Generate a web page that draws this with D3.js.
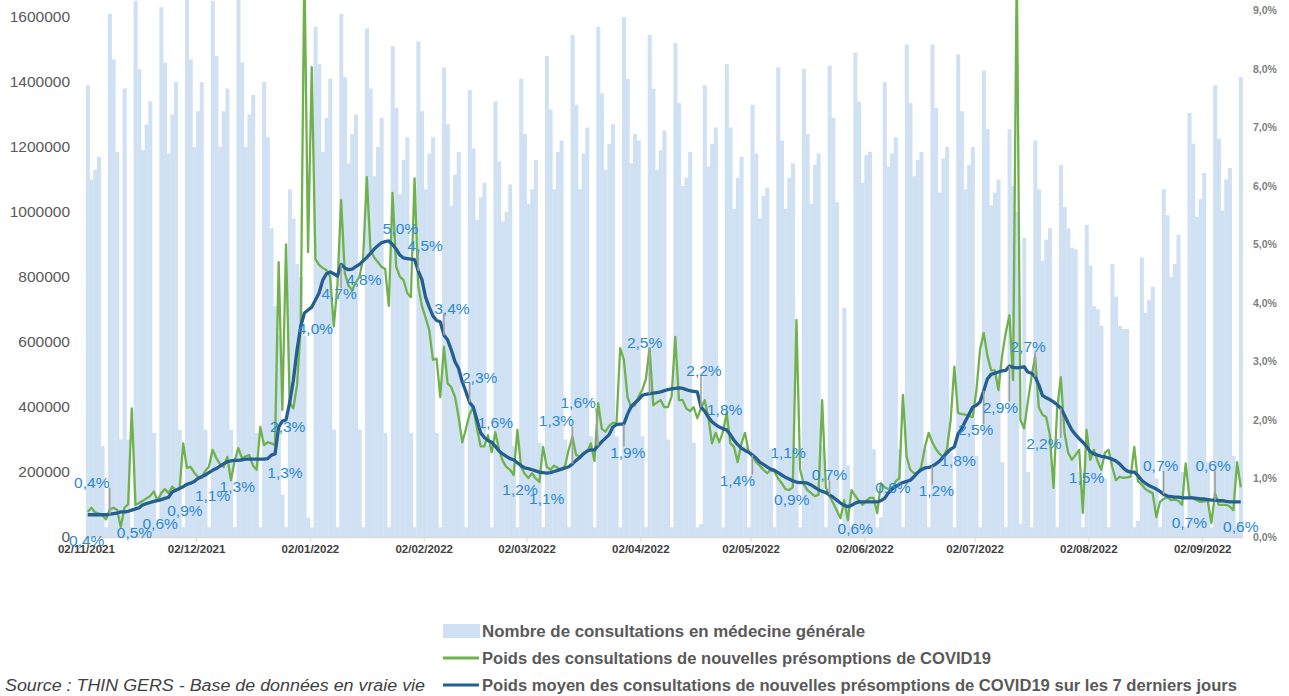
<!DOCTYPE html>
<html>
<head>
<meta charset="utf-8">
<script src="https://cdn.jsdelivr.net/npm/d3@7"></script>
<style>
  body { margin: 0; background: #fff; }
  svg { display: block; font-family: "Liberation Sans", Arial, sans-serif; }
</style>
</head>
<body>
<svg width="1289" height="696"></svg>
<script>
// first day of the series (Tuesday 02/11/2021), one value per day
const startDay = Date.UTC(2021, 10, 2);

// Nombre de consultations en médecine générale (thousands), Mon..Sun per week
const consultations = [
  1390, 1100, 1130, 1170, 280, 30,
  1610, 1470, 1185, 300, 1380, 300, 30,
  1650, 1440, 1190, 1270, 1340, 320, 30,
  1630, 1460, 1180, 1300, 1400, 330, 30,
  1680, 1470, 1200, 1310, 1400, 330, 30,
  1650, 1480, 1200, 1310, 1380, 330, 30,
  1680, 1460, 1200, 1300, 1360, 320, 30,
  1400, 1230, 950, 710, 620, 130, 30,
  1070, 980, 840, 800, 620, 60, 30,
  1570, 1455, 1185, 1290, 1410, 330, 30,
  1610, 1415, 1150, 1240, 1300, 330, 30,
  1565, 1380, 1110, 1200, 1290, 320, 30,
  1510, 1320, 1055, 1160, 1230, 320, 30,
  1525, 1310, 1070, 1180, 1230, 320, 30,
  1445, 1270, 1020, 1115, 1185, 300, 30,
  1375, 1195, 975, 1045, 1090, 280, 30,
  1340, 1155, 970, 1000, 1085, 280, 30,
  1410, 1240, 1025, 1070, 1160, 290, 30,
  1480, 1315, 1070, 1185, 1220, 300, 30,
  1545, 1330, 1070, 1180, 1260, 310, 30,
  1570, 1365, 1130, 1210, 1270, 310, 30,
  1600, 1410, 1150, 1240, 1220, 310, 30,
  1545, 1380, 1130, 1190, 1250, 300, 30,
  1520, 1335, 1080, 1105, 1185, 290, 30,
  40, 1390, 1140, 1210, 1260, 290, 30,
  1455, 1260, 1010, 1105, 1170, 280, 30,
  1330, 1180, 980, 1050, 1075, 270, 30,
  1445, 1220, 1010, 1105, 1150, 270, 30,
  1440, 1240, 1025, 1145, 1180, 280, 30,
  1450, 1290, 1030, 40, 705, 220, 30,
  1490, 1340, 1090, 1175, 1185, 270, 30,
  60, 1400, 1140, 1180, 1230, 270, 30,
  1515, 1335, 1110, 1160, 1185, 270, 30,
  1515, 1320, 1060, 1165, 1200, 260, 30,
  1485, 1310, 1070, 1145, 1200, 250, 30,
  1435, 1255, 1020, 1060, 1100, 230, 30,
  1255, 1080, 1000, 40, 920, 200, 30,
  1220, 1070, 850, 915, 950, 200, 30,
  1145, 1015, 950, 890, 885, 200, 30,
  960, 835, 710, 700, 650, 180, 30,
  840, 740, 650, 640, 640, 180, 30,
  50, 860, 690, 730, 770, 180, 30,
  1070, 990, 800, 840, 930, 200, 30,
  1305, 1210, 985, 1040, 1120, 230, 30,
  1390, 1225, 1005, 1100, 1135, 250, 30,
  1415
];

// Poids des consultations de nouvelles présomptions de COVID19 (%)
const dailyShare = [
  0.43, 0.50, 0.42, 0.40, 0.37, 0.30, 0.47, 0.50, 0.46, 0.17,
  0.50, 0.56, 2.20, 0.55, 0.58, 0.62, 0.66, 0.70, 0.78, 0.62,
  0.75, 0.82, 0.75, 0.86, 0.80, 0.82, 1.60, 1.18, 1.20, 1.10,
  1.03, 1.01, 1.13, 1.20, 1.49, 1.35, 1.25, 1.20, 1.37, 0.97,
  1.30, 1.52, 1.35, 1.38, 1.40, 1.22, 1.15, 1.88, 1.57, 1.62,
  1.60, 1.57, 4.70, 2.17, 5.00, 2.30, 2.20, 2.60, 3.60, 9.80,
  4.87, 8.03, 4.75, 4.65, 4.60, 4.56, 4.45, 3.60, 4.30, 5.76,
  4.51, 4.30, 4.22, 4.35, 4.45, 4.77, 6.15, 4.90, 4.78, 4.70,
  4.62, 4.58, 3.95, 5.88, 4.62, 4.45, 4.39, 4.17, 4.10, 6.13,
  4.30, 3.95, 3.75, 3.54, 3.03, 3.05, 2.39, 3.25, 2.63, 2.56,
  2.40, 2.05, 1.62, 1.85, 2.10, 2.22, 1.85, 1.55, 1.55, 1.74,
  1.45, 1.79, 1.50, 1.30, 1.20, 1.15, 1.06, 1.83, 1.20, 1.08,
  1.01, 1.09, 1.00, 0.94, 1.54, 1.20, 1.15, 1.22, 1.18, 1.15,
  1.22, 1.50, 1.71, 1.40, 1.38, 1.44, 1.45, 1.60, 1.30, 2.29,
  1.85, 1.80, 1.90, 1.95, 1.95, 3.23, 3.03, 2.39, 2.22, 2.25,
  2.40, 2.51, 2.70, 3.23, 2.25, 2.30, 2.34, 2.22, 2.22, 2.40,
  3.42, 2.34, 2.34, 2.20, 2.15, 2.22, 2.03, 2.20, 2.34, 2.05,
  1.60, 1.78, 1.62, 1.80, 2.12, 1.60, 1.54, 1.28, 1.60, 1.78,
  1.45, 1.37, 1.28, 1.22, 1.15, 1.09, 1.15, 1.12, 1.00, 0.92,
  0.82, 0.80, 0.85, 3.71, 1.15, 0.90, 0.80, 0.75, 0.70, 0.72,
  2.34, 0.85, 0.70, 0.58, 0.45, 0.32, 0.63, 0.29, 0.80, 0.70,
  0.62, 0.55, 0.62, 0.67, 0.67, 0.41, 0.92, 0.85, 0.82, 0.80,
  0.95, 1.00, 2.43, 1.37, 1.15, 1.09, 1.09, 1.20, 1.54, 1.78,
  1.62, 1.50, 1.42, 1.37, 1.50, 2.00, 2.91, 2.12, 2.10, 2.09,
  2.07, 2.05, 2.50, 3.20, 3.49, 3.10, 2.85, 2.85, 2.51, 3.10,
  3.49, 3.79, 2.68, 9.80, 2.00, 1.86, 2.30, 2.73, 3.08, 2.22,
  2.09, 2.05, 1.75, 0.84, 2.20, 2.73, 1.78, 1.44, 1.32, 1.40,
  1.49, 0.41, 1.83, 1.32, 1.49, 1.30, 1.15, 1.44, 1.49, 1.20,
  0.97, 1.03, 1.01, 1.02, 1.03, 1.54, 0.95, 0.90, 0.82, 0.78,
  0.75, 0.34, 0.60, 0.65, 0.68, 0.63, 0.64, 0.62, 0.55, 1.26,
  0.70, 0.66, 0.63, 0.60, 0.61, 0.62, 0.24, 0.75, 0.55, 0.55,
  0.55, 0.52, 0.46, 1.28, 0.85
];

// Poids moyen ... sur les 7 derniers jours (%)
const weeklyShare = [
  0.38, 0.38, 0.38, 0.38, 0.38, 0.38,
  0.39, 0.40, 0.41, 0.43, 0.43, 0.44, 0.46, 0.48, 0.50, 0.55,
  0.57, 0.59, 0.61, 0.62, 0.64, 0.66, 0.68, 0.77, 0.80, 0.83,
  0.86, 0.90, 0.92, 0.95, 1.00, 1.03, 1.06, 1.10, 1.14, 1.17,
  1.21, 1.25, 1.29, 1.30, 1.31, 1.31, 1.32, 1.33, 1.33, 1.33,
  1.33, 1.33, 1.33, 1.34, 1.40, 1.42, 1.88, 1.98, 2.00, 2.30,
  2.68, 3.20, 3.60, 3.83, 3.88, 3.93, 4.05, 4.17, 4.39, 4.50,
  4.53, 4.50, 4.46, 4.66, 4.60, 4.57, 4.58, 4.62, 4.66, 4.72,
  4.78, 4.85, 4.92, 4.98, 5.03, 5.05, 5.06, 5.00, 4.92, 4.82,
  4.77, 4.76, 4.75, 4.74, 4.55, 4.40, 4.10, 3.93, 3.78, 3.70,
  3.68, 3.45, 3.37, 3.20, 3.00, 2.88, 2.65, 2.48, 2.30, 2.22,
  2.00, 1.78, 1.70, 1.65, 1.62, 1.55, 1.47, 1.42, 1.38, 1.34,
  1.32, 1.27, 1.22, 1.18, 1.17, 1.15, 1.13, 1.11, 1.10, 1.09,
  1.10, 1.12, 1.14, 1.16, 1.18, 1.20, 1.25, 1.31, 1.36, 1.42,
  1.47, 1.49, 1.49, 1.56, 1.63, 1.69, 1.75, 1.88, 1.92, 1.93,
  1.93, 2.10, 2.23, 2.29, 2.35, 2.42, 2.44, 2.45, 2.46, 2.47,
  2.48, 2.50, 2.52, 2.53, 2.54, 2.55, 2.54, 2.52, 2.50, 2.49,
  2.48, 2.22, 2.15, 2.05, 1.97, 1.92, 1.88, 1.85, 1.83, 1.75,
  1.65, 1.58, 1.52, 1.48, 1.45, 1.40, 1.35, 1.28, 1.24, 1.20,
  1.16, 1.14, 1.10, 1.06, 1.02, 0.99, 0.96, 0.94, 0.93, 0.93,
  0.92, 0.89, 0.85, 0.81, 0.78, 0.76, 0.72, 0.68, 0.63, 0.58,
  0.54, 0.52, 0.54, 0.58, 0.60, 0.60, 0.60, 0.60, 0.60, 0.60,
  0.62, 0.66, 0.75, 0.82, 0.86, 0.90, 0.93, 0.95, 0.97, 1.03,
  1.10, 1.15, 1.18, 1.19, 1.21, 1.25, 1.30, 1.37, 1.44, 1.50,
  1.54, 1.76, 1.85, 1.98, 2.10, 2.22, 2.25, 2.31, 2.50, 2.70,
  2.78, 2.80, 2.82, 2.84, 2.85, 2.92, 2.90, 2.89, 2.90, 2.91,
  2.82, 2.80, 2.74, 2.60, 2.42, 2.38, 2.35, 2.31, 2.26, 2.20,
  2.08, 1.95, 1.83, 1.75, 1.68, 1.62, 1.55, 1.46, 1.42, 1.40,
  1.38, 1.37, 1.35, 1.33, 1.30, 1.25, 1.18, 1.13, 1.11, 1.11,
  1.05, 0.97, 0.92, 0.88, 0.85, 0.82, 0.78, 0.73, 0.70, 0.69,
  0.68, 0.68, 0.67, 0.67, 0.67, 0.67, 0.66, 0.65, 0.65, 0.64,
  0.63, 0.63, 0.62, 0.62, 0.61, 0.60, 0.60, 0.60, 0.60
];

// data labels on the 7-day line
const labelDays = [0, 6, 13, 20, 27, 34, 41, 48, 55, 62, 69, 76, 83, 90, 97, 104,
  111, 118, 125, 132, 139, 146, 153, 167, 174, 181, 188, 195, 202, 209, 216,
  230, 237, 244, 251, 258, 265, 272, 293, 300, 307, 314];
const labelTexts = ['0,4%', '0,4%', '0,5%', '0,6%', '0,9%', '1,1%', '1,3%', '1,3%',
  '2,3%', '4,0%', '4,7%', '4,8%', '5,0%', '4,5%', '3,4%', '2,3%', '1,6%', '1,2%',
  '1,1%', '1,3%', '1,6%', '1,9%', '2,5%', '2,2%', '1,8%', '1,4%', '1,1%', '0,9%',
  '0,7%', '0,6%', '0,6%', '1,2%', '1,8%', '2,5%', '2,9%', '2,7%', '2,2%', '1,5%',
  '0,7%', '0,7%', '0,6%', '0,6%'];

const leftTicks = [0, 200000, 400000, 600000, 800000, 1000000, 1200000, 1400000, 1600000];
const rightTicks = [0, 1, 2, 3, 4, 5, 6, 7, 8, 9];
const xTickDates = ['02/11/2021', '02/12/2021', '02/01/2022', '02/02/2022', '02/03/2022',
  '02/04/2022', '02/05/2022', '02/06/2022', '02/07/2022', '02/08/2022', '02/09/2022'];

const legendNames = [
  'Nombre de consultations en médecine générale',
  'Poids des consultations de nouvelles présomptions de COVID19',
  'Poids moyen des consultations de nouvelles présomptions de COVID19 sur les 7 derniers jours'
];
const sourceText = 'Source : THIN GERS - Base de données en vraie vie';

// ---- layout (label offsets from their point: dx, dy, leader line?) ----
const labelLayout = [
  [-1, 26, 0], [-18, -32, 1], [-1, 24, 0], [-1, 24, 0], [-2, 26, 0], [0, 25, 0],
  [-1, 26, 0], [21, 13, 0], [-2, 24, 0], [0, 28, 0], [-2, 29, 1], [-3, 22, 0],
  [8, -16, 0], [7, -25, 1], [8, -27, 1], [10, -25, 1], [0, -24, 0], [-1, 24, 0],
  [0, 25, 0], [-16, -43, 1], [-20, -43, 1], [4, 28, 1], [-5, -51, 1], [3, -37, 1],
  [-2, -20, 0], [-15, 25, 1], [10, -20, 0], [-12, 17, 0], [0, -20, 1], [0, 25, 0],
  [12, -13, 0], [4, 24, 1], [0, 26, 0], [-8, 39, 1], [-9, 41, 1], [-7, -30, 1],
  [-17, 35, 1], [0, 31, 0], [-3, -29, 1], [0, 25, 0], [-2, -35, 1], [0, 25, 0]
];

const svg = d3.select('svg');
const width = +svg.attr('width');
const height = +svg.attr('height');

const plot = { left: 85.9, right: 1242.6, top: -48, bottom: 537 };

const endDay = d3.utcDay.offset(new Date(startDay), consultations.length);
const days = d3.utcDay.range(new Date(startDay), endDay);
const mid = d => d3.utcHour.offset(d, 12);

const xScale = d3.scaleUtc().domain([new Date(startDay), endDay]).range([plot.left, plot.right]);
const yLeft = d3.scaleLinear().domain([0, 1800000]).range([plot.bottom, plot.top]);
const yRight = d3.scaleLinear().domain([0, 10]).range([plot.bottom, plot.top]);

const parseTick = d3.utcParse('%d/%m/%Y');
const pct = d => d.toFixed(1).replace('.', ',') + '%';

// bars
svg.append('g')
  .selectAll('rect').data(days)
  .enter().append('rect')
  .attr('x', d => xScale(d))
  .attr('width', d => xScale(d3.utcDay.offset(d, 1)) - xScale(d) + 0.35)
  .attr('y', (d, i) => yLeft(consultations[i] * 1000))
  .attr('height', (d, i) => yLeft(0) - yLeft(consultations[i] * 1000))
  .attr('fill', '#cfe1f2');

// axis line + date ticks
const xAxis = svg.append('g')
  .attr('transform', `translate(0,${plot.bottom})`)
  .call(d3.axisBottom(xScale)
    .tickValues(xTickDates.map(parseTick))
    .tickFormat(d3.utcFormat('%d/%m/%Y'))
    .tickSize(5).tickSizeOuter(0).tickPadding(3));
xAxis.select('.domain').attr('stroke', '#d9d9d9').attr('stroke-width', 1.3);
xAxis.selectAll('.tick line').attr('stroke', '#d9d9d9');
xAxis.selectAll('.tick text')
  .attr('fill', '#404040').attr('font-size', 11.5).attr('font-weight', 'bold')
  .attr('font-family', '"Liberation Sans", Arial, sans-serif');

// left axis
const leftAxis = svg.append('g')
  .attr('transform', 'translate(73,0)')
  .call(d3.axisLeft(yLeft).tickValues(leftTicks).tickFormat(d3.format('d')).tickSize(0).tickPadding(3));
leftAxis.select('.domain').remove();
leftAxis.selectAll('text')
  .attr('fill', '#595959').attr('font-size', 15.5)
  .attr('font-family', '"Liberation Sans", Arial, sans-serif');

// right axis
const rightAxis = svg.append('g')
  .attr('transform', 'translate(1250,0)')
  .call(d3.axisRight(yRight).tickValues(rightTicks).tickFormat(pct).tickSize(0).tickPadding(3));
rightAxis.select('.domain').remove();
rightAxis.selectAll('text')
  .attr('fill', '#7f7f7f').attr('font-size', 10.5).attr('font-weight', 'bold')
  .attr('font-family', '"Liberation Sans", Arial, sans-serif');

// lines
const dailyLine = d3.line()
  .x((d, i) => xScale(mid(days[i])))
  .y(d => yRight(d));

svg.append('path')
  .datum(dailyShare)
  .attr('d', dailyLine)
  .attr('fill', 'none')
  .attr('stroke', '#6fb24d')
  .attr('stroke-width', 2.3)
  .attr('stroke-linejoin', 'round');

svg.append('path')
  .datum(weeklyShare)
  .attr('d', dailyLine)
  .attr('fill', 'none')
  .attr('stroke', '#255e91')
  .attr('stroke-width', 3.3)
  .attr('stroke-linejoin', 'round');

// data labels with leader lines
const leaders = svg.append('g');
const labels = svg.append('g');
labelDays.forEach((day, k) => {
  const px = xScale(mid(days[day]));
  const py = yRight(weeklyShare[day]);
  const [dx, dy, lead] = labelLayout[k];
  const t = labels.append('text')
    .attr('x', px + dx)
    .attr('y', py + dy)
    .attr('text-anchor', 'middle')
    .attr('dominant-baseline', 'central')
    .attr('font-size', 15.5)
    .attr('fill', '#2d88d2')
    .text(labelTexts[k]);
  if (lead) {
    const b = t.node().getBBox();
    const cx = Math.max(b.x, Math.min(px, b.x + b.width));
    const cy = Math.max(b.y + 3, Math.min(py, b.y + b.height - 3));
    leaders.append('line')
      .attr('x1', cx).attr('y1', cy)
      .attr('x2', px).attr('y2', py)
      .attr('stroke', '#a0a0a0').attr('stroke-width', 1.6);
  }
});

// legend
const legend = svg.append('g').attr('font-weight', 'bold').attr('fill', '#595959');
const legendY = [631, 658, 685];
const legendWidths = [383, 509, 755];
legend.append('rect').attr('x', 443).attr('y', legendY[0] - 7).attr('width', 37).attr('height', 14).attr('fill', '#cfe1f2');
legend.append('line').attr('x1', 443).attr('x2', 479).attr('y1', legendY[1]).attr('y2', legendY[1])
  .attr('stroke', '#6fb24d').attr('stroke-width', 3);
legend.append('line').attr('x1', 443).attr('x2', 479).attr('y1', legendY[2]).attr('y2', legendY[2])
  .attr('stroke', '#255e91').attr('stroke-width', 3);
legendNames.forEach((name, i) => {
  legend.append('text')
    .attr('x', 482).attr('y', legendY[i])
    .attr('dominant-baseline', 'central')
    .attr('font-size', 16)
    .attr('textLength', legendWidths[i])
    .attr('lengthAdjust', 'spacingAndGlyphs')
    .text(name);
});

svg.append('text')
  .attr('x', 5).attr('y', 685)
  .attr('dominant-baseline', 'central')
  .attr('font-size', 16)
  .attr('font-style', 'italic')
  .attr('fill', '#404040')
  .attr('textLength', 420)
  .attr('lengthAdjust', 'spacingAndGlyphs')
  .text(sourceText);
</script>
</body>
</html>
